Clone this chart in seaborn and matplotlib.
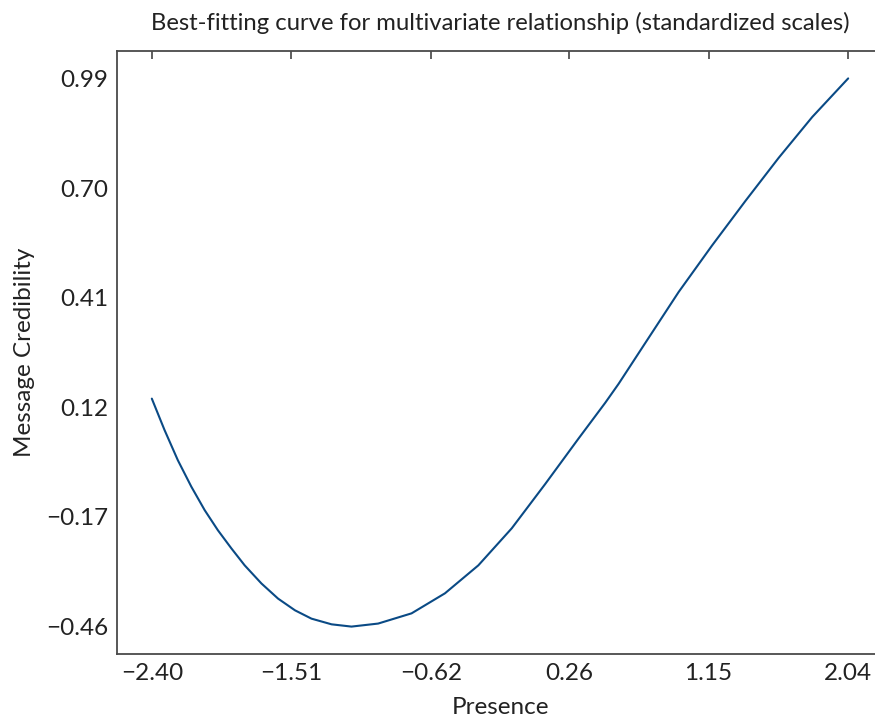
import matplotlib
matplotlib.use("Agg")
import matplotlib.pyplot as plt
import seaborn as sns
import pandas as pd

presence = [-2.400, -2.319, -2.234, -2.148, -2.063, -1.979, -1.893, -1.808, -1.701,
            -1.595, -1.487, -1.382, -1.254, -1.127, -0.957, -0.744, -0.531, -0.318,
            -0.105, 0.108, 0.320, 0.491, 0.576, 0.746, 0.959, 1.172, 1.385, 1.597,
            1.811, 2.040]
credibility = [0.143, 0.060, -0.020, -0.090, -0.152, -0.205, -0.253, -0.298, -0.346,
               -0.386, -0.417, -0.439, -0.454, -0.460, -0.452, -0.425, -0.372, -0.298,
               -0.200, -0.083, 0.037, 0.132, 0.182, 0.290, 0.425, 0.548, 0.666, 0.780,
               0.888, 0.990]
xticks = [-2.40, -1.51, -0.62, 0.26, 1.15, 2.04]
yticks = [-0.46, -0.17, 0.12, 0.41, 0.70, 0.99]

sns.set_style("white")
plt.rcParams['font.family'] = ['Lato', 'DejaVu Sans']

fig = plt.figure(figsize=(8.75, 7.18), dpi=100)
ax = fig.add_axes([117/875, 1-654/718, (883-117)/875, (654-51)/718])

df = pd.DataFrame({"Presence": presence, "Message Credibility": credibility})
sns.lineplot(data=df, x="Presence", y="Message Credibility", ax=ax,
             color="#0a4a85", linewidth=1.5, sort=False)

xr = xticks[-1] - xticks[0]
yr = yticks[-1] - yticks[0]
ax.set_xlim(xticks[0] - 0.05*xr, xticks[-1] + 0.05*xr)
ax.set_ylim(yticks[0] - 0.05*yr, yticks[-1] + 0.05*yr)
ax.set_xticks(xticks)
ax.set_xticklabels([f"{v:.2f}".replace("-", "\u2212") for v in xticks])
ax.set_yticks(yticks)
ax.set_yticklabels([f"{v:.2f}".replace("-", "\u2212") for v in yticks])

for s in ax.spines.values():
    s.set_color("#4a4a4a")
    s.set_linewidth(1.3)
ax.tick_params(direction="in", length=6, width=1.1, color="#333333",
               labelsize=17.5, labelcolor="#222222", top=True, right=True, pad=6.5)
ax.set_xlabel("Presence", fontsize=17.5, color="#222222", labelpad=9)
ax.set_ylabel("Message Credibility", fontsize=17.5, color="#222222", labelpad=8)
ax.set_title("Best-fitting curve for multivariate relationship (standardized scales)",
             fontsize=17.2, color="#222222", pad=15)

fig.savefig("out.png", dpi=100)
